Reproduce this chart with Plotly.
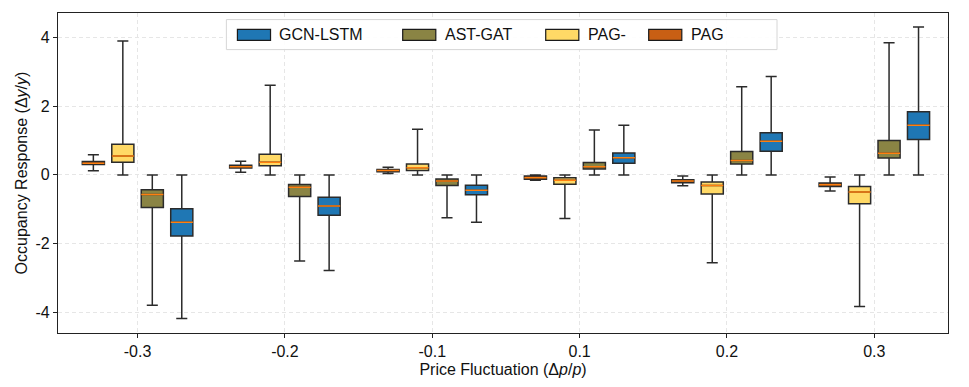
import plotly.graph_objects as go

categories = ['-0.3', '-0.2', '-0.1', '0.1', '0.2', '0.3']

# box stats: lower whisker, q1, median, q3, upper whisker
pag_low = [0.12, 0.08, 0.04, -0.16, -0.32, -0.47]
pag_q1 = [0.30, 0.20, 0.09, -0.13, -0.23, -0.34]
pag_med = [0.34, 0.24, 0.13, -0.08, -0.18, -0.29]
pag_q3 = [0.39, 0.28, 0.16, -0.03, -0.14, -0.24]
pag_high = [0.59, 0.40, 0.22, 0.0, -0.03, -0.06]

pagm_low = [0.0, 0.0, 0.0, -1.27, -2.56, -3.84]
pagm_q1 = [0.37, 0.27, 0.13, -0.27, -0.56, -0.84]
pagm_med = [0.55, 0.37, 0.21, -0.16, -0.31, -0.50]
pagm_q3 = [0.89, 0.60, 0.32, -0.08, -0.21, -0.34]
pagm_high = [3.90, 2.61, 1.33, 0.0, 0.0, 0.0]

astgat_low = [-3.80, -2.51, -1.25, 0.0, 0.0, 0.0]
astgat_q1 = [-0.95, -0.63, -0.31, 0.17, 0.32, 0.49]
astgat_med = [-0.57, -0.36, -0.18, 0.24, 0.42, 0.63]
astgat_q3 = [-0.43, -0.28, -0.12, 0.36, 0.68, 1.00]
astgat_high = [0.0, 0.0, 0.0, 1.31, 2.57, 3.85]

gcn_low = [-4.19, -2.79, -1.38, 0.0, 0.0, 0.0]
gcn_q1 = [-1.78, -1.18, -0.58, 0.34, 0.69, 1.03]
gcn_med = [-1.38, -0.91, -0.45, 0.50, 0.98, 1.45]
gcn_q3 = [-0.99, -0.65, -0.30, 0.64, 1.23, 1.84]
gcn_high = [0.0, 0.0, 0.0, 1.45, 2.87, 4.31]

# drawn left-to-right inside each group
series = [
    ('PAG', '#c85f14', pag_low, pag_q1, pag_med, pag_q3, pag_high),
    ('PAG-', '#ffd966', pagm_low, pagm_q1, pagm_med, pagm_q3, pagm_high),
    ('AST-GAT', '#8a8444', astgat_low, astgat_q1, astgat_med, astgat_q3, astgat_high),
    ('GCN-LSTM', '#1f77b4', gcn_low, gcn_q1, gcn_med, gcn_q3, gcn_high),
]

EDGE = '#2b2b2b'
MEDIAN = '#ff7f0e'
FONT = 'Liberation Sans, Arial, sans-serif'

fig = go.Figure()

for name, color, lo, q1, med, q3, hi in series:
    fig.add_trace(go.Box(
        x=categories, q1=q1, median=med, q3=q3,
        lowerfence=lo, upperfence=hi,
        name=name, offsetgroup=name,
        fillcolor=color, line=dict(color=EDGE, width=1.5),
        whiskerwidth=0.5, showlegend=False,
    ))

# orange median lines on top of each box
for name, color, lo, q1, med, q3, hi in series:
    fig.add_trace(go.Box(
        x=categories, q1=med, median=med, q3=med,
        lowerfence=med, upperfence=med,
        name=name + ' median', offsetgroup=name,
        fillcolor='rgba(0,0,0,0)', line=dict(color=MEDIAN, width=1.5),
        whiskerwidth=1, showlegend=False, hoverinfo='skip',
    ))

# legend drawn by hand so the patches are wide like the original
legend_names = ['GCN-LSTM', 'AST-GAT', 'PAG-', 'PAG']
legend_colors = ['#1f77b4', '#8a8444', '#ffd966', '#c85f14']
patch_x = [0.2016, 0.3873, 0.5480, 0.6637]
shapes = [dict(type='rect', xref='paper', yref='paper', x0=0.1892, x1=0.8079,
               y0=0.8856, y1=0.9794, line=dict(color='#d6d6d6', width=1),
               fillcolor='rgba(255,255,255,0.9)', layer='above')]
annotations = []
for nm, col, px in zip(legend_names, legend_colors, patch_x):
    shapes.append(dict(type='rect', xref='paper', yref='paper', x0=px, x1=px + 0.0372,
                       y0=0.9147, y1=0.9491, line=dict(color='#1a1a1a', width=1.2),
                       fillcolor=col, layer='above'))
    annotations.append(dict(text=nm, xref='paper', yref='paper', x=px + 0.0450, y=0.9319,
                            xanchor='left', yanchor='middle', showarrow=False,
                            font=dict(size=16, color='#111', family=FONT)))

# page body keeps an 8px margin, so the figure is shrunk by that much
fig.update_layout(
    width=961, height=379,
    margin=dict(l=50, r=21, t=5, b=54),
    boxmode='group', boxgap=0.2, boxgroupgap=0.25,
    plot_bgcolor='white', paper_bgcolor='white',
    font=dict(family=FONT, size=16, color='#111'),
    shapes=shapes, annotations=annotations,
    xaxis=dict(
        type='category', range=[-0.54, 5.5], automargin=False,
        title=dict(text='Price Fluctuation (Δ<i>p</i>/<i>p</i>)', font=dict(size=16), standoff=4),
        showgrid=True, gridcolor='#e6e6e6', griddash='4px,3px', gridwidth=1,
        showline=True, linecolor='#222', linewidth=1.3, mirror=True,
        ticks='outside', ticklen=4, tickcolor='#222',
    ),
    yaxis=dict(
        range=[-4.61, 4.72], automargin=False,
        tickvals=[-4, -2, 0, 2, 4], ticktext=['-4', '-2', '0', '2', '4'],
        title=dict(text='Occupancy Response (Δ<i>y</i>/<i>y</i>)', font=dict(size=16), standoff=3),
        showgrid=True, gridcolor='#e6e6e6', griddash='4px,3px', gridwidth=1,
        zeroline=False,
        showline=True, linecolor='#222', linewidth=1.3, mirror=True,
        ticks='outside', ticklen=4, tickcolor='#222',
    ),
)

fig.write_html('out.html')
